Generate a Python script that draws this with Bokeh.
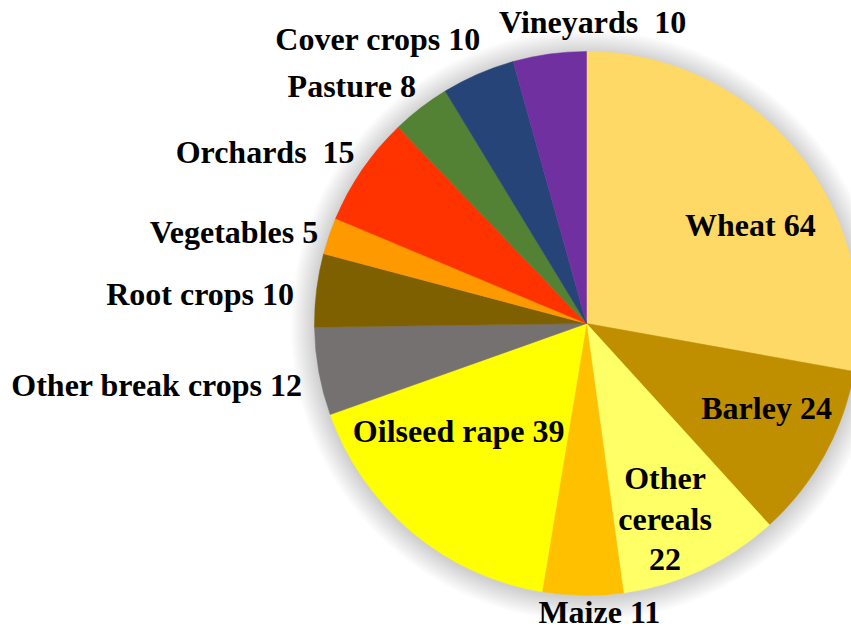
import math
from bokeh.plotting import figure
from bokeh.models import Range1d, ColumnDataSource
from bokeh.core.properties import value
from bokeh.embed import file_html
from bokeh.resources import INLINE

# ---- data ----
crops = ["Wheat", "Barley", "Other cereals", "Maize", "Oilseed rape",
         "Other break crops", "Root crops", "Vegetables", "Orchards",
         "Pasture", "Cover crops", "Vineyards"]
areas = [64, 24, 22, 11, 39, 12, 10, 5, 15, 8, 10, 10]
colors = ["#FFD966", "#BF8F00", "#FFFF66", "#FFC000", "#FFFF00",
          "#767171", "#7F6000", "#FF9900", "#FF3300",
          "#548235", "#264478", "#7030A0"]
label_texts = ["Wheat 64", "Barley 24", "Other\ncereals\n22", "Maize 11",
               "Oilseed rape 39", "Other break crops 12", "Root crops 10",
               "Vegetables 5", "Orchards\u00a0\u00a015", "Pasture 8", "Cover crops 10",
               "Vineyards\u00a0\u00a010"]

# ---- layout (label placement: angle offset from slice middle, radius factor, align)
label_layout = [(9.3, 0.70, "center"), (-3.2, 0.735, "center"), (3.3, 0.78, "center"),
                (-3.3, 1.07, "center"), (9.4, 0.62, "center"), (-2.5, 1.07, "right"),
                (-1.7, 1.08, "right"), (-0.3, 1.04, "right"), (1.8, 1.057, "right"),
                (1.6, 1.068, "right"), (3.0, 1.11, "right"), (9.0, 1.10, "center")]

W, H = 851, 632
cx, cy, R = 586, -323, 272

p = figure(width=W, height=H, output_backend="svg", toolbar_location=None,
           x_range=Range1d(0, W), y_range=Range1d(-H, 0),
           min_border=0, outline_line_color=None)
p.axis.visible = False
p.grid.visible = False
p.background_fill_color = "white"

# soft shadow
for k in range(24, 0, -1):
    p.circle(x=[cx], y=[cy - 2], radius=R + k, fill_color="black",
             fill_alpha=0.009, line_color=None)

total = sum(areas)
starts, ends, mids = [], [], []
cum = 0.0
for a in areas:
    s = cum / total * 360.0
    cum += a
    e = cum / total * 360.0
    starts.append(math.radians(90 - s))
    ends.append(math.radians(90 - e))
    mids.append((s + e) / 2)

src = ColumnDataSource(dict(start=starts, end=ends, color=colors, crop=crops, area=areas))
p.wedge(x=cx, y=cy, radius=R, start_angle="start", end_angle="end",
        direction="clock", fill_color="color", line_color="color",
        line_width=0.5, source=src)

for i, t in enumerate(label_texts):
    dth, f, align = label_layout[i]
    th = math.radians(mids[i] + dth)
    lx = cx + f * R * math.sin(th)
    ly = cy + f * R * math.cos(th) + 2
    p.text(x=[lx], y=[ly], text=[t], text_align=align, text_baseline="middle",
           text_font=value("Liberation Serif"), text_font_style="bold",
           text_font_size="32px", text_color="black", text_line_height=1.12)

open("out.html", "w").write(file_html(p, INLINE))
